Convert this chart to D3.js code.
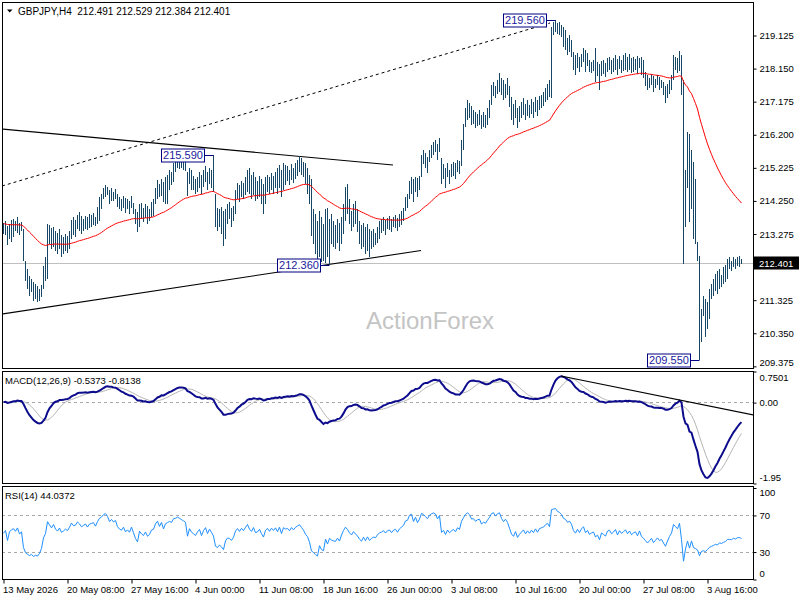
<!DOCTYPE html>
<html>
<head>
<meta charset="utf-8">
<title>GBPJPY H4</title>
<script src="https://cdn.jsdelivr.net/npm/d3@7"></script>
<style>
  body { margin: 0; background: #fff; }
  svg { display: block; }
  text { font-family: "Liberation Sans", Arial, sans-serif; white-space: pre; }
</style>
</head>
<body>
<div id="chart"></div>
<script>
'use strict';

// ---- values: GBPJPY H4, one bar every 4 hours from 13 May 2026 ----
const symbol = 'GBPJPY,H4'
const lastOhlc = ['212.491', '212.529', '212.384', '212.401']
const lastClose = 212.401

const highs = [
  213.57, 213.63, 213.51, 213.55, 213.66, 213.69, 213.63, 213.75, 213.57, 213.60,
  213.40, 212.46, 212.22, 212.02, 211.93, 211.84, 211.78, 211.72, 211.63, 211.75,
  212.31, 212.58, 213.55, 213.52, 213.43, 213.46, 213.34, 213.28, 213.40, 213.22,
  213.16, 213.25, 213.19, 213.34, 213.66, 213.75, 213.66, 213.81, 213.90, 213.78,
  213.69, 213.78, 213.75, 213.84, 213.81, 213.87, 213.75, 214.07, 214.34, 214.43,
  214.63, 214.69, 214.66, 214.57, 214.63, 214.51, 214.60, 214.43, 214.34, 214.28,
  214.37, 214.31, 214.28, 214.22, 214.37, 214.16, 213.99, 213.90, 214.13, 214.16,
  214.04, 214.13, 214.10, 214.01, 214.19, 214.28, 214.63, 214.84, 214.72, 214.87,
  214.78, 214.93, 215.01, 215.16, 215.10, 215.36, 215.45, 215.51, 215.55, 215.48,
  215.42, 215.39, 215.10, 215.22, 215.16, 214.98, 214.87, 214.93, 215.10, 215.01,
  215.16, 215.25, 215.10, 215.22, 215.16, 215.59, 214.43, 214.04, 213.99, 214.07,
  213.93, 213.99, 214.13, 214.19, 214.04, 214.10, 214.57, 214.75, 214.69, 214.81,
  214.75, 214.93, 215.16, 215.22, 215.01, 215.10, 214.93, 214.81, 214.98, 214.87,
  214.72, 214.93, 215.01, 214.93, 215.07, 214.98, 215.10, 215.22, 215.28, 215.16,
  215.36, 215.28, 215.25, 215.16, 215.31, 215.22, 215.34, 215.45, 215.55, 215.51,
  215.39, 215.34, 215.22, 215.01, 214.87, 213.99, 213.84, 213.63, 213.93, 213.75,
  213.55, 213.99, 214.04, 213.69, 213.84, 213.63, 213.52, 213.69, 213.57, 213.75,
  214.13, 214.66, 214.72, 214.28, 213.93, 214.13, 214.22, 213.99, 213.63, 213.52,
  213.57, 213.46, 213.55, 213.40, 213.34, 213.40, 213.28, 213.46, 213.63, 213.69,
  213.75, 213.66, 213.72, 213.78, 213.69, 213.75, 213.81, 213.72, 213.84, 213.93,
  214.04, 214.34, 214.43, 214.81, 214.93, 214.87, 214.95, 214.90, 214.98, 215.60,
  215.75, 215.66, 215.54, 215.75, 215.89, 215.98, 216.04, 215.92, 216.10, 215.51,
  215.31, 215.22, 215.36, 215.16, 215.31, 215.39, 215.34, 215.45, 215.42, 216.04,
  216.51, 216.98, 217.22, 217.13, 217.04, 216.92, 216.86, 216.81, 216.92, 216.78,
  216.86, 216.78, 216.98, 217.22, 217.66, 217.75, 217.63, 217.80, 218.01, 217.86,
  217.80, 217.69, 217.86, 217.63, 217.30, 217.10, 217.22, 216.98, 217.04, 217.16,
  217.28, 217.10, 217.22, 217.07, 217.25, 217.16, 217.30, 217.22, 217.33, 217.36,
  217.45, 217.57, 217.69, 217.80, 219.36, 219.51, 219.56, 219.48, 219.51, 219.42,
  219.36, 219.27, 219.04, 219.13, 218.98, 218.63, 218.54, 218.60, 218.48, 218.57,
  218.74, 218.68, 218.60, 218.39, 218.33, 218.39, 218.74, 218.33, 218.27, 218.36,
  218.39, 218.30, 218.45, 218.48, 218.39, 218.45, 218.54, 218.42, 218.51, 218.39,
  218.54, 218.60, 218.48, 218.57, 218.45, 218.48, 218.42, 218.51, 218.45, 218.48,
  218.39, 218.04, 217.95, 217.86, 217.98, 217.92, 217.83, 217.95, 217.89, 217.80,
  217.74, 217.63, 217.69, 217.80, 217.95, 218.54, 218.48, 218.45, 218.65, 218.55,
  217.80, 215.16, 216.27, 216.21, 215.75, 215.39, 214.87, 213.01, 212.60, 211.05,
  211.43, 211.34, 211.25, 211.63, 211.78, 211.93, 212.07, 212.16, 212.22, 212.05,
  212.28, 212.34, 212.52, 212.58, 212.46, 212.58, 212.52, 212.58, 212.61, 212.529
]
const lows = [
  213.25, 213.22, 212.93, 213.10, 213.01, 213.16, 213.34, 213.28, 213.22, 213.34,
  212.46, 211.87, 211.63, 211.43, 211.55, 211.28, 211.34, 211.25, 211.28, 211.40,
  211.63, 211.87, 211.93, 212.96, 212.81, 212.87, 212.75, 212.66, 212.81, 212.58,
  212.66, 212.75, 212.69, 212.81, 213.10, 213.22, 213.16, 213.40, 213.34, 213.25,
  213.34, 213.40, 213.37, 213.43, 213.46, 213.52, 213.49, 213.55, 213.63, 213.99,
  214.28, 214.34, 214.40, 214.13, 214.22, 214.22, 214.28, 214.07, 213.99, 213.93,
  214.04, 213.87, 213.99, 213.84, 214.04, 213.84, 213.55, 213.31, 213.46, 213.69,
  213.60, 213.72, 213.55, 213.63, 213.75, 213.78, 214.13, 214.28, 214.34, 214.37,
  214.19, 214.13, 214.13, 214.57, 214.69, 214.78, 215.10, 215.22, 215.19, 215.22,
  215.16, 215.13, 214.37, 214.72, 214.57, 214.57, 214.45, 214.51, 214.63, 214.43,
  214.66, 214.78, 214.57, 214.72, 214.63, 214.51, 213.46, 213.34, 213.46, 213.25,
  212.90, 213.10, 213.55, 213.69, 213.46, 213.63, 213.84, 214.28, 214.19, 214.34,
  214.28, 214.40, 214.51, 214.45, 214.28, 214.40, 214.22, 214.28, 214.34, 214.13,
  213.84, 214.13, 214.51, 214.43, 214.57, 214.45, 214.63, 214.43, 214.63, 214.34,
  214.57, 214.69, 214.81, 214.69, 214.84, 214.75, 214.87, 214.98, 215.10, 215.01,
  214.93, 214.72, 214.43, 214.13, 213.19, 212.96, 212.66, 212.46, 212.58, 212.43,
  212.46, 212.40, 212.58, 212.36, 212.96, 212.87, 212.81, 212.99, 212.75, 212.96,
  213.25, 213.63, 213.84, 213.55, 213.34, 213.46, 213.55, 213.31, 212.96, 212.81,
  212.87, 212.66, 212.75, 212.58, 212.81, 212.87, 212.93, 212.99, 213.10, 213.28,
  213.34, 213.22, 213.40, 213.37, 213.31, 213.46, 213.43, 213.34, 213.46, 213.52,
  213.63, 213.93, 214.04, 214.28, 214.43, 214.19, 214.51, 214.34, 214.57, 214.95,
  215.31, 215.22, 215.07, 215.39, 215.51, 215.60, 215.69, 215.45, 215.69, 214.72,
  214.87, 214.63, 214.93, 214.72, 214.93, 214.98, 214.87, 215.10, 215.04, 215.25,
  215.75, 216.42, 216.63, 216.69, 216.48, 216.51, 216.39, 216.45, 216.48, 216.36,
  216.42, 216.39, 216.48, 216.69, 217.05, 217.33, 217.28, 217.39, 217.45, 217.36,
  217.22, 217.28, 217.36, 217.01, 216.63, 216.48, 216.69, 216.39, 216.57, 216.69,
  216.78, 216.63, 216.75, 216.69, 216.81, 216.69, 216.86, 216.75, 216.92, 216.98,
  217.04, 217.16, 217.22, 217.30, 217.27, 219.13, 219.21, 219.16, 219.13, 219.07,
  218.77, 218.68, 218.54, 218.63, 218.48, 218.10, 217.95, 218.16, 218.04, 218.19,
  218.33, 218.04, 218.21, 218.04, 218.01, 218.07, 217.74, 217.92, 217.51, 217.92,
  217.98, 217.89, 218.04, 218.10, 217.98, 218.04, 218.10, 217.95, 218.13, 218.01,
  218.07, 218.10, 218.04, 218.10, 218.01, 218.04, 218.10, 217.98, 218.16, 217.95,
  217.86, 217.63, 217.51, 217.57, 217.66, 217.45, 217.57, 217.66, 217.51, 217.57,
  217.36, 217.13, 217.28, 217.39, 217.51, 217.80, 218.10, 218.01, 218.05, 217.36,
  212.37, 213.46, 214.63, 213.60, 214.00, 213.10, 212.96, 212.46, 209.55, 210.08,
  210.84, 210.22, 210.46, 210.75, 211.34, 211.43, 211.57, 211.49, 211.63, 211.69,
  211.78, 211.84, 211.93, 212.22, 212.16, 212.28, 212.22, 212.31, 212.28, 212.384
]
const closes = [
  213.35, 213.45, 213.05, 213.40, 213.50, 213.55, 213.45, 213.60, 213.35, 213.45,
  212.50, 212.00, 211.80, 211.65, 211.70, 211.45, 211.50, 211.40, 211.50, 211.70,
  212.20, 212.45, 213.40, 213.20, 213.00, 213.30, 213.00, 212.85, 213.10, 212.80,
  212.90, 213.05, 212.95, 213.20, 213.55, 213.40, 213.45, 213.70, 213.60, 213.45,
  213.55, 213.65, 213.50, 213.70, 213.75, 213.80, 213.65, 213.95, 214.20, 214.30,
  214.50, 214.60, 214.50, 214.30, 214.45, 214.35, 214.45, 214.20, 214.10, 214.05,
  214.20, 214.00, 214.10, 214.00, 214.25, 214.00, 213.70, 213.50, 214.05, 213.90,
  213.80, 214.00, 213.75, 213.85, 214.10, 214.15, 214.50, 214.70, 214.45, 214.75,
  214.40, 214.80, 214.90, 215.00, 214.95, 215.25, 215.30, 215.40, 215.35, 215.30,
  215.25, 215.20, 214.55, 215.00, 214.80, 214.70, 214.60, 214.80, 214.95, 214.60,
  214.90, 215.10, 214.75, 215.05, 214.85, 214.60, 213.70, 213.55, 213.70, 213.50,
  213.20, 213.75, 213.95, 213.90, 213.75, 213.95, 214.40, 214.60, 214.40, 214.65,
  214.50, 214.75, 215.00, 214.70, 214.55, 214.85, 214.50, 214.55, 214.75, 214.45,
  214.20, 214.70, 214.85, 214.65, 214.90, 214.75, 214.95, 214.70, 215.05, 214.60,
  215.10, 215.00, 215.05, 214.90, 215.15, 215.00, 215.20, 215.30, 215.40, 215.25,
  215.10, 214.85, 214.70, 214.30, 213.40, 213.20, 212.90, 212.70, 213.30, 212.80,
  212.65, 213.50, 212.90, 213.40, 213.20, 213.10, 213.05, 213.30, 213.00, 213.50,
  213.95, 214.30, 214.10, 213.80, 213.60, 213.90, 213.70, 213.50, 213.20, 213.00,
  213.30, 212.95, 213.25, 212.90, 213.05, 213.15, 213.10, 213.30, 213.45, 213.50,
  213.60, 213.45, 213.60, 213.65, 213.50, 213.65, 213.70, 213.55, 213.75, 213.85,
  213.95, 214.25, 214.30, 214.70, 214.80, 214.50, 214.85, 214.60, 214.90, 215.50,
  215.45, 215.35, 215.25, 215.60, 215.75, 215.85, 215.80, 215.60, 215.90, 214.95,
  215.10, 214.80, 215.15, 214.95, 215.10, 215.20, 215.05, 215.35, 215.25, 215.95,
  216.35, 216.80, 217.00, 216.90, 216.65, 216.70, 216.55, 216.70, 216.75, 216.50,
  216.65, 216.60, 216.85, 217.10, 217.50, 217.60, 217.45, 217.70, 217.80, 217.55,
  217.40, 217.60, 217.45, 217.15, 216.80, 216.65, 216.95, 216.55, 216.75, 216.90,
  217.05, 216.80, 217.00, 216.85, 217.05, 216.90, 217.15, 216.95, 217.20, 217.25,
  217.30, 217.45, 217.55, 217.40, 219.20, 219.30, 219.40, 219.25, 219.20, 219.10,
  218.90, 218.85, 218.70, 218.80, 218.65, 218.30, 218.15, 218.40, 218.20, 218.45,
  218.60, 218.25, 218.40, 218.15, 218.25, 218.30, 218.00, 218.10, 217.80, 218.20,
  218.10, 218.00, 218.30, 218.35, 218.15, 218.25, 218.40, 218.10, 218.35, 218.20,
  218.30, 218.40, 218.20, 218.35, 218.15, 218.25, 218.30, 218.10, 218.35, 218.05,
  217.95, 217.80, 217.65, 217.75, 217.85, 217.60, 217.70, 217.80, 217.65, 217.70,
  217.50, 217.30, 217.50, 217.70, 217.85, 218.35, 218.25, 218.15, 218.50, 217.50,
  213.60, 214.90, 216.00, 214.20, 215.40, 213.40, 213.05, 212.60, 210.10, 210.90,
  211.00, 210.70, 211.05, 211.40, 211.55, 211.70, 211.85, 211.70, 212.00, 211.85,
  212.00, 212.10, 212.35, 212.35, 212.30, 212.45, 212.35, 212.48, 212.49, 212.401
]

// the 212.300 level sits under the current-price tag in the reference, so it is not listed
const priceTicks = [219.125, 218.150, 217.175, 216.200, 215.225, 214.250, 213.275, 211.325, 210.350, 209.375]
const macdTicks = [0.7501, 0, -1.95]
const rsiTicks = [100, 70, 30, 0]
const rsiLevels = [70, 30]
const dateLabels = ['13 May 2026', '20 May 08:00', '27 May 16:00', '4 Jun 00:00', '11 Jun 08:00', '18 Jun 16:00',
  '26 Jun 00:00', '3 Jul 08:00', '10 Jul 16:00', '20 Jul 00:00', '27 Jul 08:00', '3 Aug 16:00']
const dateStep = 32 // bars between two date labels

// drawn objects, as [bar index, value]
const upperLine = [[-0.5, 216.355], [195, 215.294]]
const lowerLine = [[-0.5, 210.902], [209, 212.774]]
const dottedLine = [[-0.5, 214.675], [273.5, 219.479]]
const macdTrend = [[279, 0.628], [375.5, -0.313]]
const priceMarks = [
  {bar: 105, value: 215.59},
  {bar: 163, value: 212.36},
  {bar: 276, value: 219.56},
  {bar: 348, value: 209.55}
]

const maSeed = 213.57 // red average at the first bar
const macdText = 'MACD(12,26,9) -0.5373 -0.8138'
const rsiText = 'RSI(14) 44.0372'

// ---- indicators from the closes ----
function ema(values, period, seed){
  const k = 2 / (period + 1)
  let prev = seed
  return values.map(v => (prev = prev + k * (v - prev)))
}
function sma(values, period){
  return values.map((v, i) => d3.mean(values.slice(Math.max(0, i - period + 1), i + 1)))
}
const ma55 = ema(closes, 55, maSeed)
const ema12 = ema(closes, 12, closes[0])
const ema26 = ema(closes, 26, closes[0])
const macd = ema12.map((v, i) => v - ema26[i])
const signal = sma(macd, 9)
const rsi = (function(){
  let ag = 0.06, al = 0.06
  return closes.map((c, i) => {
    if(i > 0){
      const ch = c - closes[i - 1]
      ag = (ag * 13 + Math.max(ch, 0)) / 14
      al = (al * 13 + Math.max(-ch, 0)) / 14
    }
    return 100 - 100 / (1 + ag / al)
  })
})()

// ---- layout ----
const dims = {
  width: 800, height: 600,
  left: 2, right: 753,
  main: [2, 368], macd: [371, 483], rsi: [486, 579]
}
const n = closes.length
const barColor = '#174766'

const svg = d3.select('#chart').append('svg')
  .attr('width', dims.width)
  .attr('height', dims.height)
  .style('font-size', '9.5px')

const x = d3.scaleLinear().domain([0, n - 1]).range([3, 3 + 2 * (n - 1)])
const yPrice = d3.scaleLinear().domain([209.311, 220.098]).range([dims.main[1], dims.main[0]])
const yMacd = d3.scaleLinear().domain([-1.95, 0.7501]).range([dims.macd[1], dims.macd[0]])
const yRsi = d3.scaleLinear().domain([0, 100]).range([dims.rsi[1], dims.rsi[0] + 1.5])

// clip paths, one per panel
const defs = svg.append('defs')
function panelGroup(id, band){
  defs.append('clipPath').attr('id', id)
    .append('rect')
    .attr('x', dims.left + 1).attr('y', band[0] + 1)
    .attr('width', dims.right - dims.left - 1).attr('height', band[1] - band[0] - 1)
  return svg.append('g').attr('clip-path', `url(#${id})`)
}
const mainG = panelGroup('clip-main', dims.main)
const macdG = panelGroup('clip-macd', dims.macd)
const rsiG = panelGroup('clip-rsi', dims.rsi)

// watermark
mainG.append('text')
  .attr('x', 366).attr('y', 329)
  .attr('fill', '#c4c4c4')
  .style('font-size', '24px')
  .text('ActionForex')

// current price line
const lastY = Math.round(yPrice(lastClose)) + 0.5
mainG.append('line')
  .attr('x1', dims.left).attr('x2', dims.right)
  .attr('y1', lastY).attr('y2', lastY)
  .attr('stroke', '#c0c0c0')

// trend lines
const pLine = d3.line().x(d => x(d[0])).y(d => yPrice(d[1]))
mainG.append('path').attr('d', pLine(upperLine)).attr('fill', 'none').attr('stroke', '#000').attr('stroke-width', 1.1)
mainG.append('path').attr('d', pLine(lowerLine)).attr('fill', 'none').attr('stroke', '#000').attr('stroke-width', 1.1)
mainG.append('path').attr('d', pLine(dottedLine)).attr('fill', 'none').attr('stroke', '#000')
  .attr('stroke-dasharray', '3,3')

// bars (high-low lines)
mainG.append('g')
  .selectAll('line')
  .data(closes)
  .join('line')
  .attr('x1', (d, i) => x(i) + 0.5)
  .attr('x2', (d, i) => x(i) + 0.5)
  .attr('y1', (d, i) => yPrice(highs[i]))
  .attr('y2', (d, i) => Math.max(yPrice(lows[i]), yPrice(highs[i]) + 1))
  .attr('stroke', barColor)
  .attr('stroke-width', 1)
  .attr('shape-rendering', 'crispEdges')

// 55 EMA
mainG.append('path')
  .attr('d', d3.line().x((d, i) => x(i) + 0.5).y(d => yPrice(d))(ma55))
  .attr('fill', 'none')
  .attr('stroke', '#ff0000')
  .attr('stroke-width', 1)

// high / low marks
const markG = mainG.append('g').style('font-size', '11px')
priceMarks.forEach(m => {
  const bx = x(m.bar) + 0.5
  const by = Math.round(yPrice(m.value)) + 0.5
  const right = Math.round(bx - 10) + 0.5
  markG.append('line')
    .attr('x1', right).attr('x2', bx)
    .attr('y1', by).attr('y2', by)
    .attr('stroke', '#000080')
  markG.append('rect')
    .attr('x', right - 43).attr('y', by - 6.5)
    .attr('width', 43).attr('height', 13)
    .attr('fill', '#fff')
    .attr('stroke', '#000080')
  markG.append('text')
    .attr('x', right - 21.5).attr('y', by)
    .attr('dy', '0.36em')
    .attr('text-anchor', 'middle')
    .attr('fill', '#1a1a9c')
    .text(m.value.toFixed(3))
})

// MACD panel
macdG.append('line')
  .attr('x1', dims.left).attr('x2', dims.right)
  .attr('y1', Math.round(yMacd(0)) + 0.5).attr('y2', Math.round(yMacd(0)) + 0.5)
  .attr('stroke', '#a8a8a8')
  .attr('stroke-dasharray', '3,3')
macdG.append('path')
  .attr('d', d3.line().x((d, i) => x(i) + 0.5).y(d => yMacd(d))(signal))
  .attr('fill', 'none')
  .attr('stroke', '#b4b4b4')
  .attr('stroke-width', 1)
macdG.append('path')
  .attr('d', d3.line().x((d, i) => x(i) + 0.5).y(d => yMacd(d))(macd))
  .attr('fill', 'none')
  .attr('stroke', '#0c0c8c')
  .attr('stroke-width', 2)
macdG.append('path')
  .attr('d', d3.line().x(d => x(d[0])).y(d => yMacd(d[1]))(macdTrend))
  .attr('fill', 'none')
  .attr('stroke', '#000')
  .attr('stroke-width', 1.1)

// RSI panel
rsiLevels.forEach(v => {
  const yy = Math.round(yRsi(v)) + 0.5
  rsiG.append('line')
    .attr('x1', dims.left).attr('x2', dims.right)
    .attr('y1', yy).attr('y2', yy)
    .attr('stroke', '#a8a8a8')
    .attr('stroke-dasharray', '3,3')
})
rsiG.append('path')
  .attr('d', d3.line().x((d, i) => x(i) + 0.5).y(d => yRsi(d))(rsi))
  .attr('fill', 'none')
  .attr('stroke', '#1e8fff')
  .attr('stroke-width', 1)

// panel frames
;[dims.main, dims.macd, dims.rsi].forEach(band => {
  svg.append('rect')
    .attr('x', dims.left + 0.5).attr('y', band[0] + 0.5)
    .attr('width', dims.right - dims.left).attr('height', band[1] - band[0])
    .attr('fill', 'none')
    .attr('stroke', '#000')
    .attr('shape-rendering', 'crispEdges')
})

// right axes, labels kept inside their panel
function rightAxis(scale, values, fmt, band){
  const g = svg.append('g')
    .attr('transform', `translate(${dims.right + 0.5},0.5)`)
    .call(d3.axisRight(scale).tickValues(values).tickSize(3).tickPadding(3).tickFormat(fmt))
  g.select('.domain').remove()
  g.selectAll('.tick line').attr('stroke', '#000')
  g.selectAll('.tick text')
    .attr('fill', '#000')
    .style('font-size', '9.5px')
    .style('font-family', '"Liberation Sans", Arial, sans-serif')
    .attr('y', d => {
      const yy = scale(d)
      return Math.min(Math.max(yy, band[0] + 6), band[1] - 6) - yy
    })
  return g
}
rightAxis(yPrice, priceTicks, d3.format('.3f'), dims.main)
rightAxis(yMacd, macdTicks, d => (d === 0 ? '0.00' : String(d)), dims.macd)
rightAxis(yRsi, rsiTicks, d3.format('d'), dims.rsi)

// current price tag
svg.append('rect')
  .attr('x', dims.right + 1).attr('y', lastY - 7)
  .attr('width', 45).attr('height', 13)
  .attr('fill', '#000')
svg.append('text')
  .attr('x', dims.right + 6).attr('y', lastY)
  .attr('dy', '0.35em')
  .attr('fill', '#fff')
  .text(lastClose.toFixed(3))

// date axis
const dateAxis = svg.append('g')
  .attr('transform', `translate(0.5,${dims.rsi[1] + 0.5})`)
  .call(d3.axisBottom(x).tickValues(dateLabels.map((d, k) => k * dateStep)).tickSize(4).tickPadding(3)
    .tickFormat((d, k) => dateLabels[k]))
dateAxis.select('.domain').remove()
dateAxis.selectAll('.tick line').attr('stroke', '#000')
dateAxis.selectAll('.tick text')
  .attr('text-anchor', 'start')
  .attr('x', -1)
  .attr('fill', '#000')
  .style('font-size', '9.5px')
  .style('font-family', '"Liberation Sans", Arial, sans-serif')

// titles
svg.append('path').attr('d', 'M7,9.5 L12.5,9.5 L9.75,12.5 Z').attr('fill', '#000')
svg.append('text')
  .attr('x', 18).attr('y', 14.5)
  .style('font-size', '10px')
  .text(`${symbol}  ${lastOhlc.join(' ')}`)
svg.append('text')
  .attr('x', 5).attr('y', dims.macd[0] + 13)
  .text(macdText)
svg.append('text')
  .attr('x', 5).attr('y', dims.rsi[0] + 13)
  .text(rsiText)
</script>
</body>
</html>
